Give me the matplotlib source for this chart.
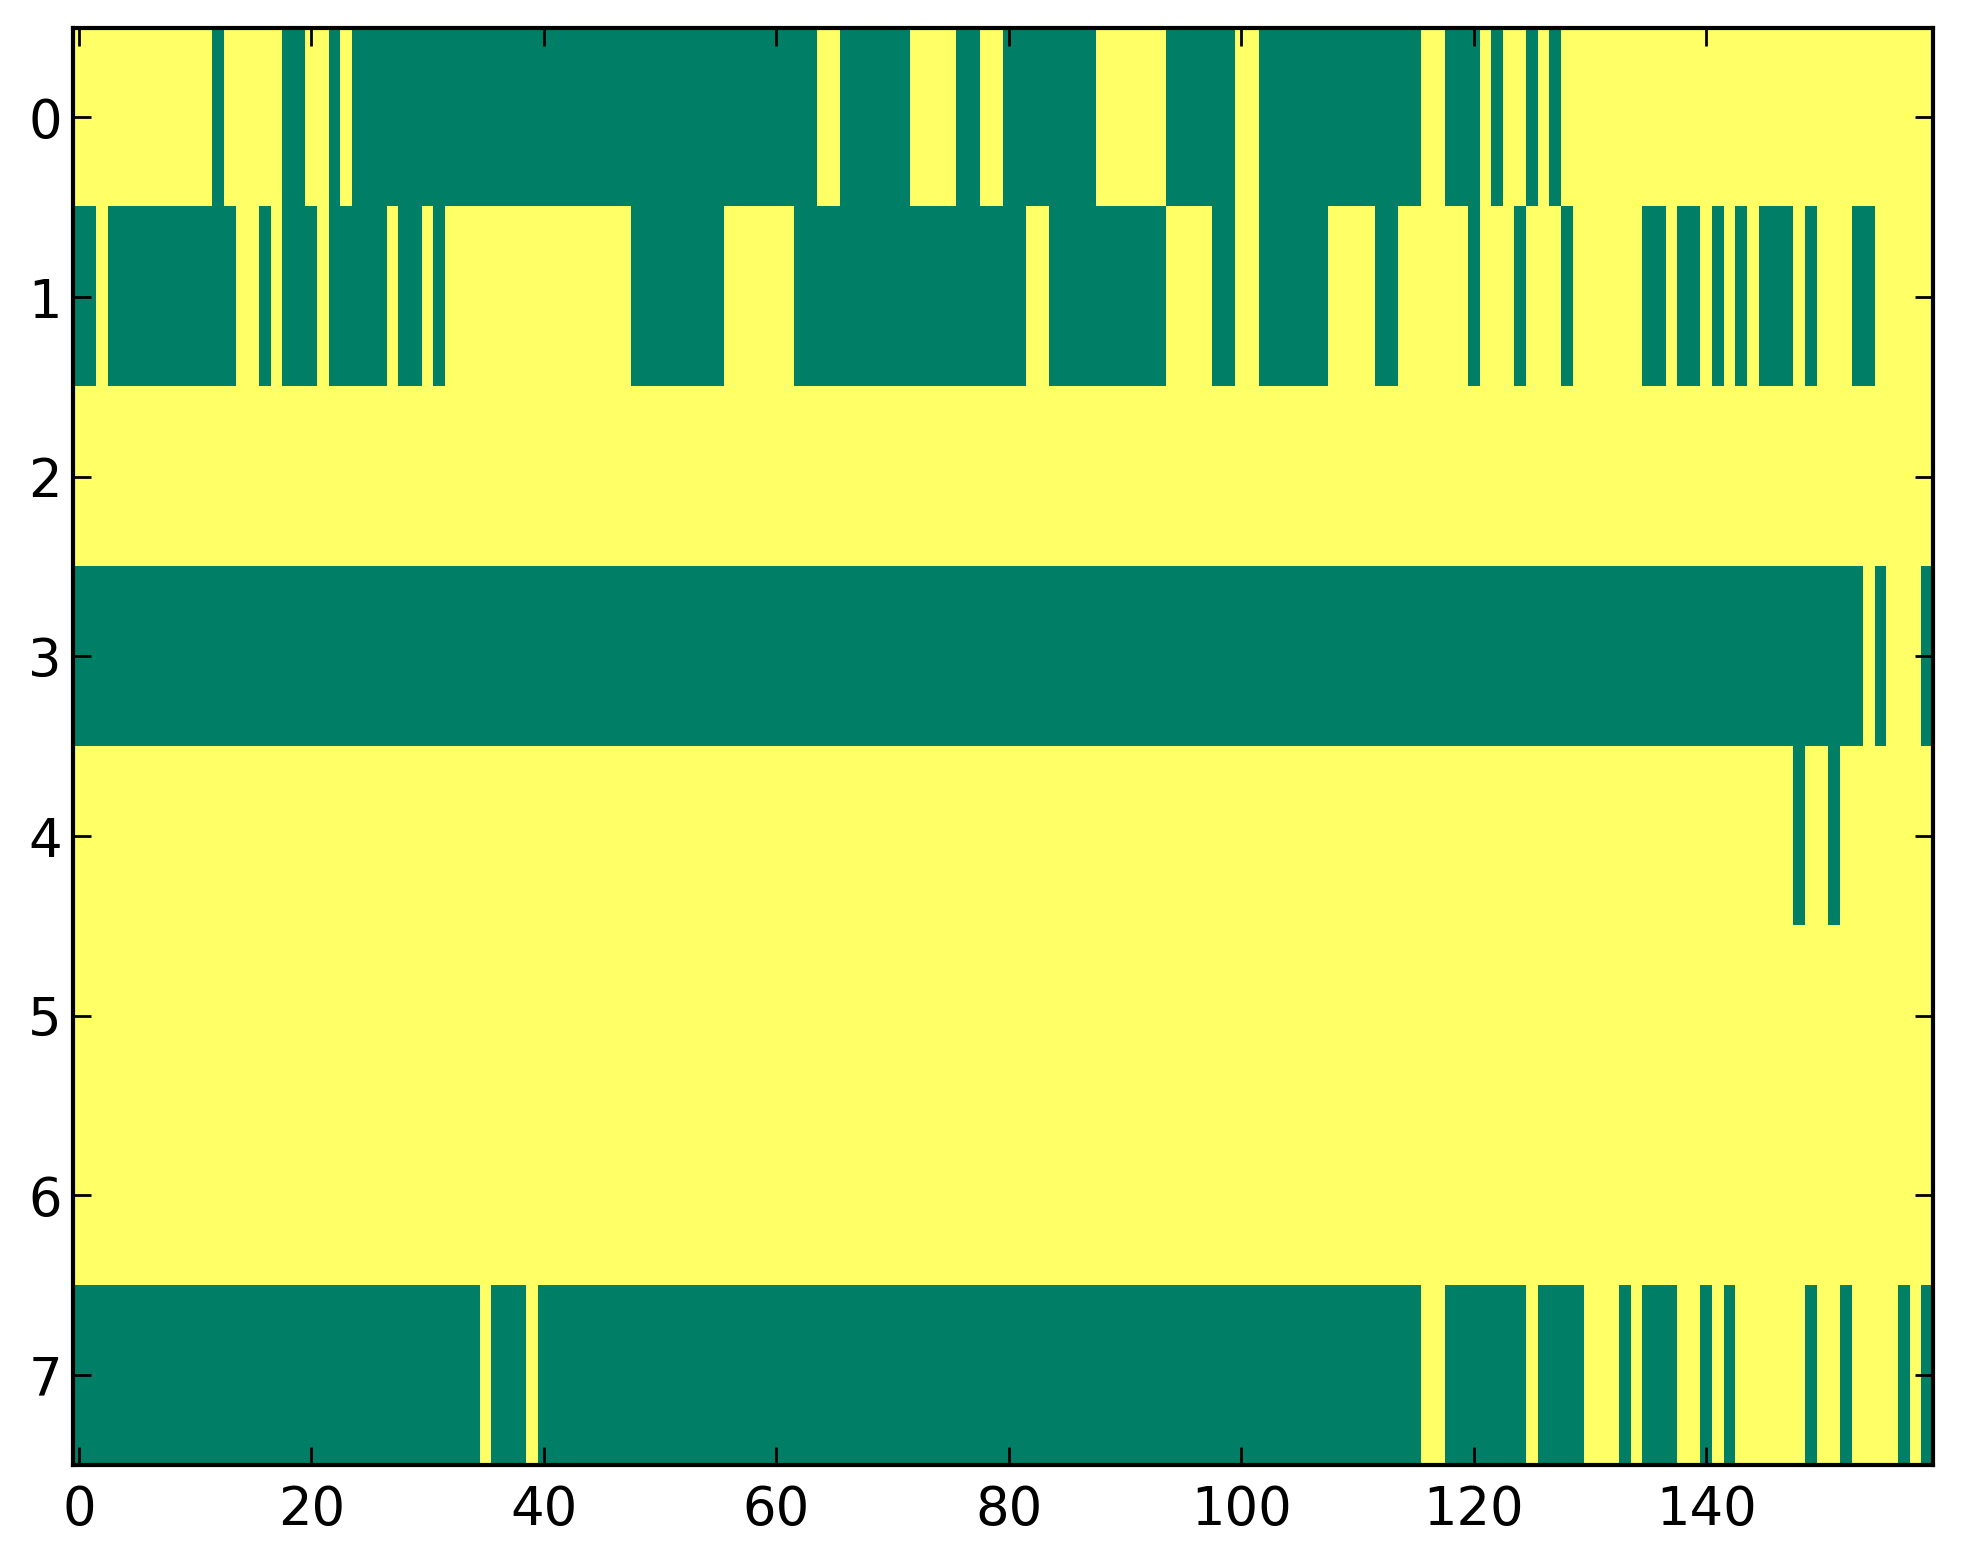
import numpy as np
import matplotlib
matplotlib.use("Agg")
import matplotlib.pyplot as plt

# each row is stored as run lengths: (value, count), 1 = yellow, 0 = green
row0 = [(1, 12), (0, 1), (1, 5), (0, 2), (1, 2), (0, 1), (1, 1), (0, 40), (1, 2),
        (0, 6), (1, 4), (0, 2), (1, 2), (0, 8), (1, 6), (0, 6), (1, 2), (0, 14),
        (1, 2), (0, 3), (1, 1), (0, 1), (1, 2), (0, 1), (1, 1), (0, 1), (1, 32)]
row1 = [(0, 2), (1, 1), (0, 11), (1, 2), (0, 1), (1, 1), (0, 3), (1, 1), (0, 5),
        (1, 1), (0, 2), (1, 1), (0, 1), (1, 16), (0, 8), (1, 6), (0, 20), (1, 2),
        (0, 10), (1, 4), (0, 2), (1, 2), (0, 6), (1, 4), (0, 2), (1, 6), (0, 1),
        (1, 3), (0, 1), (1, 3), (0, 1), (1, 6), (0, 2), (1, 1), (0, 2), (1, 1),
        (0, 1), (1, 1), (0, 1), (1, 1), (0, 3), (1, 1), (0, 1), (1, 3), (0, 2),
        (1, 5)]
row2 = [(1, 160)]
row3 = [(0, 154), (1, 1), (0, 1), (1, 3), (0, 1)]
row4 = [(1, 148), (0, 1), (1, 2), (0, 1), (1, 8)]
row5 = [(1, 160)]
row6 = [(1, 160)]
row7 = [(0, 35), (1, 1), (0, 3), (1, 1), (0, 76), (1, 2), (0, 7), (1, 1), (0, 4),
        (1, 3), (0, 1), (1, 1), (0, 3), (1, 2), (0, 1), (1, 1), (0, 1), (1, 6),
        (0, 1), (1, 2), (0, 1), (1, 4), (0, 1), (1, 1), (0, 1)]

rows = [row0, row1, row2, row3, row4, row5, row6, row7]
xticks = [0, 20, 40, 60, 80, 100, 120, 140]
yticks = [0, 1, 2, 3, 4, 5, 6, 7]


def expand(runs):
    out = []
    for v, n in runs:
        out += [v] * n
    return out


grid = np.array([expand(r) for r in rows])

fig = plt.figure(figsize=(1963 / 200, 1564 / 200), dpi=200)
ax = fig.add_axes([0.0372, 0.0633, 0.9475, 0.9191])
ax.imshow(grid, cmap="summer", aspect="auto", interpolation="nearest",
          vmin=0, vmax=1)

ax.set_xticks(xticks)
ax.set_yticks(yticks)
ax.tick_params(direction="in", length=6.5, width=1.0, top=True, right=True,
               labelsize=19)
ax.tick_params(axis="x", pad=7)
ax.tick_params(axis="y", pad=4)
for s in ax.spines.values():
    s.set_linewidth(1.5)

fig.savefig("out.png", dpi=200)
